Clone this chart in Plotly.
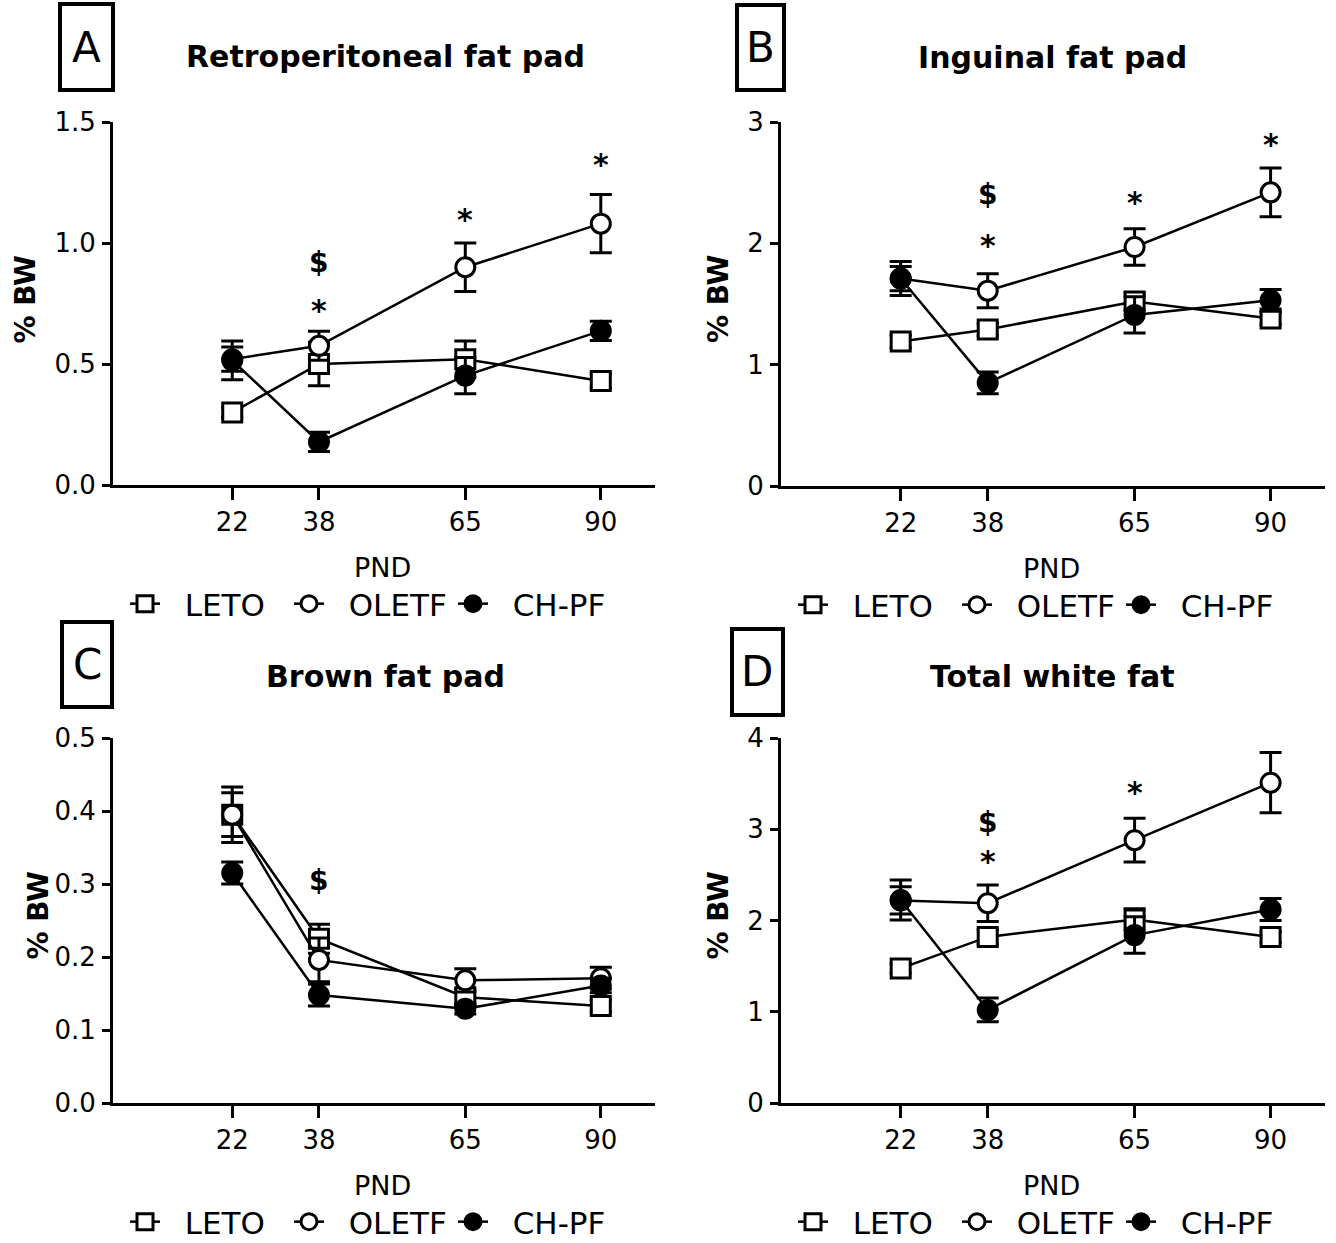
import plotly.graph_objects as go

# ---------------- data ----------------
pnd = [22, 38, 65, 90]
groups = ["LETO", "OLETF", "CH-PF"]

retro_leto = [0.30, 0.50, 0.52, 0.43]
retro_leto_err = [0.02, 0.09, 0.075, 0.03]
retro_oletf = [0.52, 0.575, 0.90, 1.08]
retro_oletf_err = [0.05, 0.06, 0.10, 0.12]
retro_chpf = [0.515, 0.178, 0.452, 0.637]
retro_chpf_err = [0.08, 0.04, 0.075, 0.04]

ing_leto = [1.19, 1.29, 1.52, 1.38]
ing_leto_err = [0.05, 0.05, 0.07, 0.05]
ing_oletf = [1.71, 1.61, 1.97, 2.42]
ing_oletf_err = [0.10, 0.14, 0.15, 0.20]
ing_chpf = [1.71, 0.85, 1.41, 1.53]
ing_chpf_err = [0.14, 0.09, 0.15, 0.09]

brown_leto = [0.395, 0.225, 0.145, 0.133]
brown_leto_err = [0.038, 0.02, 0.01, 0.008]
brown_oletf = [0.395, 0.196, 0.168, 0.171]
brown_oletf_err = [0.03, 0.03, 0.016, 0.015]
brown_chpf = [0.315, 0.148, 0.129, 0.161]
brown_chpf_err = [0.015, 0.015, 0.007, 0.01]

total_leto = [1.475, 1.82, 2.01, 1.82]
total_leto_err = [0.05, 0.08, 0.12, 0.06]
total_oletf = [2.22, 2.19, 2.88, 3.51]
total_oletf_err = [0.15, 0.20, 0.24, 0.33]
total_chpf = [2.225, 1.02, 1.84, 2.12]
total_chpf_err = [0.22, 0.13, 0.20, 0.12]

titles = ["Retroperitoneal fat pad", "Inguinal fat pad", "Brown fat pad", "Total white fat"]
panel_letters = ["A", "B", "C", "D"]
y_ticks = [[0.0, 0.5, 1.0, 1.5], [0, 1, 2, 3], [0.0, 0.1, 0.2, 0.3, 0.4, 0.5], [0, 1, 2, 3, 4]]
y_tick_text = [["0.0", "0.5", "1.0", "1.5"], ["0", "1", "2", "3"],
               ["0.0", "0.1", "0.2", "0.3", "0.4", "0.5"], ["0", "1", "2", "3", "4"]]

sig_A = [(38, 0.733, "*"), (38, 0.918, "$"), (65, 1.11, "*"), (90, 1.336, "*")]
sig_B = [(38, 2.01, "*"), (38, 2.40, "$"), (65, 2.36, "*"), (90, 2.84, "*")]
sig_C = [(38, 0.305, "$")]
sig_D = [(38, 2.68, "*"), (38, 3.07, "$"), (65, 3.44, "*"), (90, 4.16, "*")]

panels = [
    (retro_leto, retro_leto_err, retro_oletf, retro_oletf_err, retro_chpf, retro_chpf_err, sig_A),
    (ing_leto, ing_leto_err, ing_oletf, ing_oletf_err, ing_chpf, ing_chpf_err, sig_B),
    (brown_leto, brown_leto_err, brown_oletf, brown_oletf_err, brown_chpf, brown_chpf_err, sig_C),
    (total_leto, total_leto_err, total_oletf, total_oletf_err, total_chpf, total_chpf_err, sig_D),
]

# ---------------- layout geometry (pixels) ----------------
W, H = 1336, 1243
FONT = "DejaVu Sans"
areas = [(113, 655, 122, 485), (781, 1325, 122, 486), (113, 655, 738, 1103), (781, 1325, 738, 1103)]
boxes = [(60, 113, 4, 90), (737, 784, 5, 90), (62, 112, 622, 707), (732, 783, 629, 715)]
title_pos = [(385, 57), (1052, 58), (385, 676), (1052, 676)]
ylabel_x = [25, 718, 38, 718]

def px(x):
    return x / W

def py(y):
    return 1 - y / H

fig = go.Figure()

styles = [
    dict(symbol="square", color="white"),
    dict(symbol="circle", color="white"),
    dict(symbol="circle", color="black"),
]

annotations = []
shapes = []
NB = "\u00a0\u00a0"
for i, (l, le, o, oe, c, ce, sig) in enumerate(panels):
    n = "" if i == 0 else str(i + 1)
    xa, ya = "x" + n, "y" + n
    leg = "legend" + n
    for g, (vals, errs), st in zip(groups, [(l, le), (o, oe), (c, ce)], styles):
        fig.add_trace(go.Scatter(
            x=pnd, y=vals, name=NB + g, mode="lines+markers",
            xaxis=xa, yaxis=ya, legend=leg, cliponaxis=False,
            line=dict(color="black", width=2.5),
            marker=dict(symbol=st["symbol"], size=19, color=st["color"],
                        line=dict(color="black", width=3)),
            error_y=dict(type="data", array=errs, visible=True,
                         color="black", thickness=3, width=11),
        ))
    left, right, top, bottom = areas[i]
    fig.update_layout(**{
        "xaxis" + n: dict(domain=[px(left), px(right)], anchor=ya, range=[0, 100],
                          tickvals=pnd, ticktext=[str(v) for v in pnd],
                          showline=True, linecolor="black", linewidth=3,
                          ticks="outside", ticklen=12, tickwidth=3, tickcolor="black",
                          showgrid=False, zeroline=False,
                          tickfont=dict(family=FONT, size=26, color="black"),
                          ticklabelstandoff=0),
        "yaxis" + n: dict(domain=[py(bottom), py(top)], anchor=xa,
                          range=[y_ticks[i][0], y_ticks[i][-1]],
                          tickvals=y_ticks[i], ticktext=y_tick_text[i],
                          showline=True, linecolor="black", linewidth=3,
                          ticks="outside", ticklen=8, tickwidth=3, tickcolor="black",
                          showgrid=False, zeroline=False,
                          tickfont=dict(family=FONT, size=26, color="black"),
                          ticklabelstandoff=1),
        leg: dict(orientation="h", x=px(left + 12), y=py(bottom + 119), xanchor="left",
                  yanchor="middle", font=dict(family=FONT, size=31, color="black"),
                  bgcolor="rgba(0,0,0,0)", itemwidth=30, tracegroupgap=0,
                  entrywidth=119, entrywidthmode="pixels"),
    })
    annotations.append(dict(text="PND", x=px((left + right) / 2 - 2), y=py(bottom + 82),
                            xref="paper", yref="paper", showarrow=False,
                            xanchor="center", yanchor="middle",
                            font=dict(family=FONT, size=27, color="black")))
    annotations.append(dict(text="<b>% BW</b>", x=px(ylabel_x[i]), y=py((top + bottom) / 2 - 5),
                            xref="paper", yref="paper", showarrow=False, textangle=-90,
                            xanchor="center", yanchor="middle",
                            font=dict(family=FONT, size=28, color="black")))
    tx, ty = title_pos[i]
    annotations.append(dict(text="<b>" + titles[i] + "</b>", x=px(tx), y=py(ty),
                            xref="paper", yref="paper", showarrow=False,
                            xanchor="center", yanchor="middle",
                            font=dict(family=FONT, size=30, color="black")))
    bl, br, bt, bb = boxes[i]
    shapes.append(dict(type="rect", xref="paper", yref="paper",
                       x0=px(bl), x1=px(br), y0=py(bb), y1=py(bt),
                       line=dict(color="black", width=4)))
    annotations.append(dict(text=panel_letters[i], x=px((bl + br) / 2),
                            y=py((bt + bb) / 2), xref="paper", yref="paper", showarrow=False,
                            xanchor="center", yanchor="middle",
                            font=dict(family=FONT, size=42, color="black")))
    for sx, sy, st in sig:
        annotations.append(dict(text="<b>" + st + "</b>", x=sx, y=sy, xref=xa, yref=ya,
                                showarrow=False, xanchor="center", yanchor="middle",
                                yshift=-3 if st == "*" else 0,
                                font=dict(family=FONT, size=30 if st == "*" else 28,
                                          color="black")))

fig.update_layout(width=W, height=H, margin=dict(l=0, r=0, t=0, b=0, autoexpand=False),
                  paper_bgcolor="white", plot_bgcolor="white",
                  annotations=annotations, shapes=shapes)

fig.write_html("out.html", config={"displayModeBar": False},
               post_script="document.body.style.margin='0';document.body.style.overflow='hidden';")
